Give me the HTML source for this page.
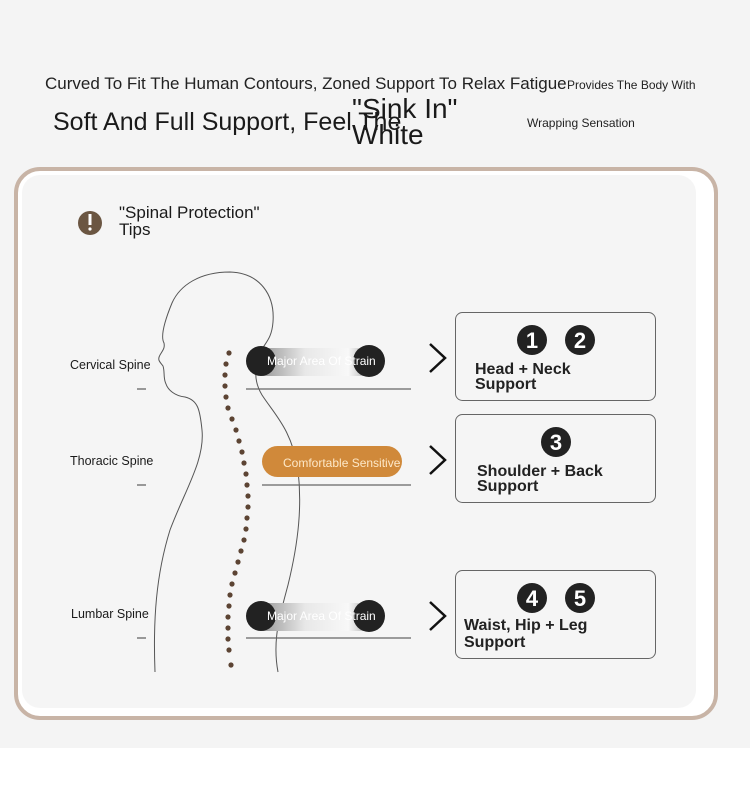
<!DOCTYPE html>
<html><head><meta charset="utf-8"><style>
html,body{margin:0;padding:0}
body{width:750px;height:798px;background:#fff;position:relative;overflow:hidden;font-family:"Liberation Sans",sans-serif;color:#1a1a1a}
.bg{position:absolute;left:0;top:0;width:750px;height:748px;background:#f4f4f4}
.t{position:absolute;white-space:nowrap}
</style></head><body>
<div class="bg"></div>
<div class="t" style="left:45px;top:74px;font-size:17px;color:#222">Curved To Fit The Human Contours, Zoned Support To Relax Fatigue</div>
<div class="t" style="left:567px;top:78px;font-size:12px;color:#222">Provides The Body With</div>
<div class="t" style="left:53px;top:108px;font-size:25px;color:#1a1a1a">Soft And Full Support, Feel The</div>
<div class="t" style="left:352px;top:96px;font-size:28px;line-height:26px;color:#1a1a1a">"Sink In"<br>White</div>
<div class="t" style="left:527px;top:116px;font-size:12px;color:#222">Wrapping Sensation</div>

<svg width="750" height="798" style="position:absolute;left:0;top:0">
<rect x="16" y="169" width="700" height="549" rx="24" fill="#fff" stroke="#c8b4a6" stroke-width="4"/>
<rect x="22" y="175" width="674" height="533" rx="18" fill="#f5f5f5"/>
<circle cx="90" cy="223" r="12" fill="#6b5642"/>
<rect x="88.5" y="214" width="3" height="11" fill="#fff"/>
<circle cx="90" cy="229" r="1.6" fill="#fff"/>
<path d="M155 672 C153 620 156 575 170 530 C185 490 205 460 202 430 C200 410 198 400 185 397 C175 396 168 390 166 384 C163 378 165 372 163 366 C160 362 157 360 160 355 C163 350 165 348 164 343 C160 336 165 320 172 303 C180 285 200 272 230 272 C260 273 275 295 273 322 C272 335 268 340 264 346 C258 360 250 375 262 395 C275 415 292 430 298 470 C302 505 299 540 288 585 C280 615 272 640 278 672" fill="none" stroke="#555" stroke-width="1"/>
<g fill="#5c4433">
<circle cx="229" cy="353" r="2.6"/><circle cx="226" cy="364" r="2.6"/><circle cx="225" cy="375" r="2.6"/><circle cx="225" cy="386" r="2.6"/><circle cx="226" cy="397" r="2.6"/><circle cx="228" cy="408" r="2.6"/><circle cx="232" cy="419" r="2.6"/><circle cx="236" cy="430" r="2.6"/><circle cx="239" cy="441" r="2.6"/><circle cx="242" cy="452" r="2.6"/><circle cx="244" cy="463" r="2.6"/><circle cx="246" cy="474" r="2.6"/><circle cx="247" cy="485" r="2.6"/><circle cx="248" cy="496" r="2.6"/><circle cx="248" cy="507" r="2.6"/><circle cx="247" cy="518" r="2.6"/><circle cx="246" cy="529" r="2.6"/><circle cx="244" cy="540" r="2.6"/><circle cx="241" cy="551" r="2.6"/><circle cx="238" cy="562" r="2.6"/><circle cx="235" cy="573" r="2.6"/><circle cx="232" cy="584" r="2.6"/><circle cx="230" cy="595" r="2.6"/><circle cx="229" cy="606" r="2.6"/><circle cx="228" cy="617" r="2.6"/><circle cx="228" cy="628" r="2.6"/><circle cx="228" cy="639" r="2.6"/><circle cx="229" cy="650" r="2.6"/><circle cx="231" cy="665" r="2.6"/>
</g>
<defs><linearGradient id="g" x1="0" x2="1"><stop offset="0" stop-color="#999"/><stop offset="0.4" stop-color="#e8e8e8"/><stop offset="0.8" stop-color="#f8f8f8"/><stop offset="1" stop-color="#aaa"/></linearGradient></defs>
<g>
<rect x="262" y="348" width="108" height="28" fill="url(#g)"/>
<circle cx="261" cy="361" r="15" fill="#222"/><circle cx="369" cy="361" r="16" fill="#222"/>
<rect x="262" y="603" width="108" height="28" fill="url(#g)"/>
<circle cx="261" cy="616" r="15" fill="#222"/><circle cx="369" cy="616" r="16" fill="#222"/>
<rect x="262" y="446" width="140" height="31" rx="15.5" fill="#d0893a"/>
</g>
<g stroke="#666" stroke-width="1.3">
<line x1="246" y1="389" x2="411" y2="389"/><line x1="262" y1="485" x2="411" y2="485"/><line x1="246" y1="638" x2="411" y2="638"/>
<line x1="137" y1="389" x2="146" y2="389"/><line x1="137" y1="485" x2="146" y2="485"/><line x1="137" y1="638" x2="146" y2="638"/>
</g>
<g fill="none" stroke="#111" stroke-width="2.5">
<polyline points="430,344 445,358 430,372"/><polyline points="430,446 445,460 430,474"/><polyline points="430,602 445,616 430,630"/>
</g>
<g fill="none" stroke="#666" stroke-width="1">
<rect x="455.5" y="312.5" width="200" height="88" rx="7"/><rect x="455.5" y="414.5" width="200" height="88" rx="7"/><rect x="455.5" y="570.5" width="200" height="88" rx="7"/>
</g>
<g fill="#222"><circle cx="532" cy="340" r="15"/><circle cx="580" cy="340" r="15"/><circle cx="556" cy="442" r="15"/><circle cx="532" cy="598" r="15"/><circle cx="580" cy="598" r="15"/></g>
<g fill="#fff" font-family="Liberation Sans" font-weight="bold" font-size="22" text-anchor="middle">
<text x="532" y="348">1</text><text x="580" y="348">2</text><text x="556" y="450">3</text><text x="532" y="606">4</text><text x="580" y="606">5</text>
</g>
<g fill="#fff" font-family="Liberation Sans" font-size="12">
<text x="267" y="365">Major Area Of Strain</text><text x="267" y="620">Major Area Of Strain</text>
<text x="283" y="467" fill="#fde8c8">Comfortable Sensitive</text>
</g>
</svg>
<div class="t" style="left:119px;top:204px;font-size:17px;line-height:17px">"Spinal Protection"<br>Tips</div>
<div class="t" style="left:70px;top:358px;font-size:12.5px">Cervical Spine</div>
<div class="t" style="left:70px;top:454px;font-size:12.5px">Thoracic Spine</div>
<div class="t" style="left:71px;top:607px;font-size:12.5px">Lumbar Spine</div>
<div class="t" style="left:475px;top:362px;font-size:16px;line-height:15px;font-weight:bold;color:#222">Head + Neck<br>Support</div>
<div class="t" style="left:477px;top:464px;font-size:16px;line-height:15px;font-weight:bold;color:#222">Shoulder + Back<br>Support</div>
<div class="t" style="left:464px;top:617px;font-size:16px;line-height:17px;font-weight:bold;color:#222">Waist, Hip + Leg<br>Support</div>
</body></html>
